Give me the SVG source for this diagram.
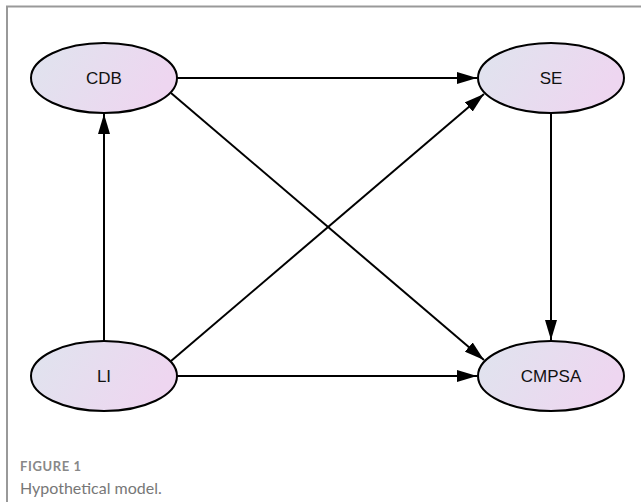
<svg xmlns="http://www.w3.org/2000/svg" width="641" height="502" viewBox="0 0 641 502">
<defs>
<linearGradient id="g" x1="0" y1="0" x2="1" y2="0.3">
<stop offset="0" stop-color="#dfe4ee"/>
<stop offset="1" stop-color="#eed6f0"/>
</linearGradient>
<marker id="a" markerUnits="userSpaceOnUse" markerWidth="20" markerHeight="12" refX="20" refY="6" orient="auto">
<path d="M0,0 L20,6 L0,12 Z" fill="#000"/>
</marker>
<style>
.n{fill:url(#g);stroke:#000;stroke-width:2}
.t{font-family:"Liberation Sans",Arial,sans-serif;font-size:17px;fill:#111;text-anchor:middle;dominant-baseline:central}
.e{stroke:#000;stroke-width:2;fill:none;marker-end:url(#a)}
</style>
</defs>
<rect width="641" height="502" fill="#fff"/>
<path d="M7,502 V6.5 H641" fill="none" stroke="#999" stroke-width="2"/>
<g id="connectors">
<line class="e" x1="177" y1="78" x2="477" y2="78"/>
<line class="e" x1="104" y1="341" x2="104" y2="114"/>
<line class="e" x1="551" y1="113" x2="551" y2="340"/>
<line class="e" x1="177" y1="376" x2="477" y2="376"/>
<line class="e" x1="171" y1="93" x2="484" y2="360"/>
<line class="e" x1="171" y1="361" x2="484" y2="94"/>
</g>
<g id="CDB"><ellipse class="n" cx="104" cy="78" rx="73" ry="35"/><text class="t" x="104" y="78">CDB</text></g>
<g id="SE"><ellipse class="n" cx="551" cy="78" rx="73" ry="35"/><text class="t" x="551" y="78">SE</text></g>
<g id="LI"><ellipse class="n" cx="104" cy="376" rx="73" ry="35"/><text class="t" x="104" y="376">LI</text></g>
<g id="CMPSA"><ellipse class="n" cx="551" cy="376" rx="73" ry="35"/><text class="t" x="551" y="376">CMPSA</text></g>
<text x="20" y="471" font-family="Lato,'Open Sans',sans-serif" font-size="13" font-weight="bold" fill="#888" letter-spacing="0.6">FIGURE 1</text>
<text x="20" y="494" font-family="Lato,'Open Sans',sans-serif" font-size="16" fill="#777">Hypothetical model.</text>
</svg>
